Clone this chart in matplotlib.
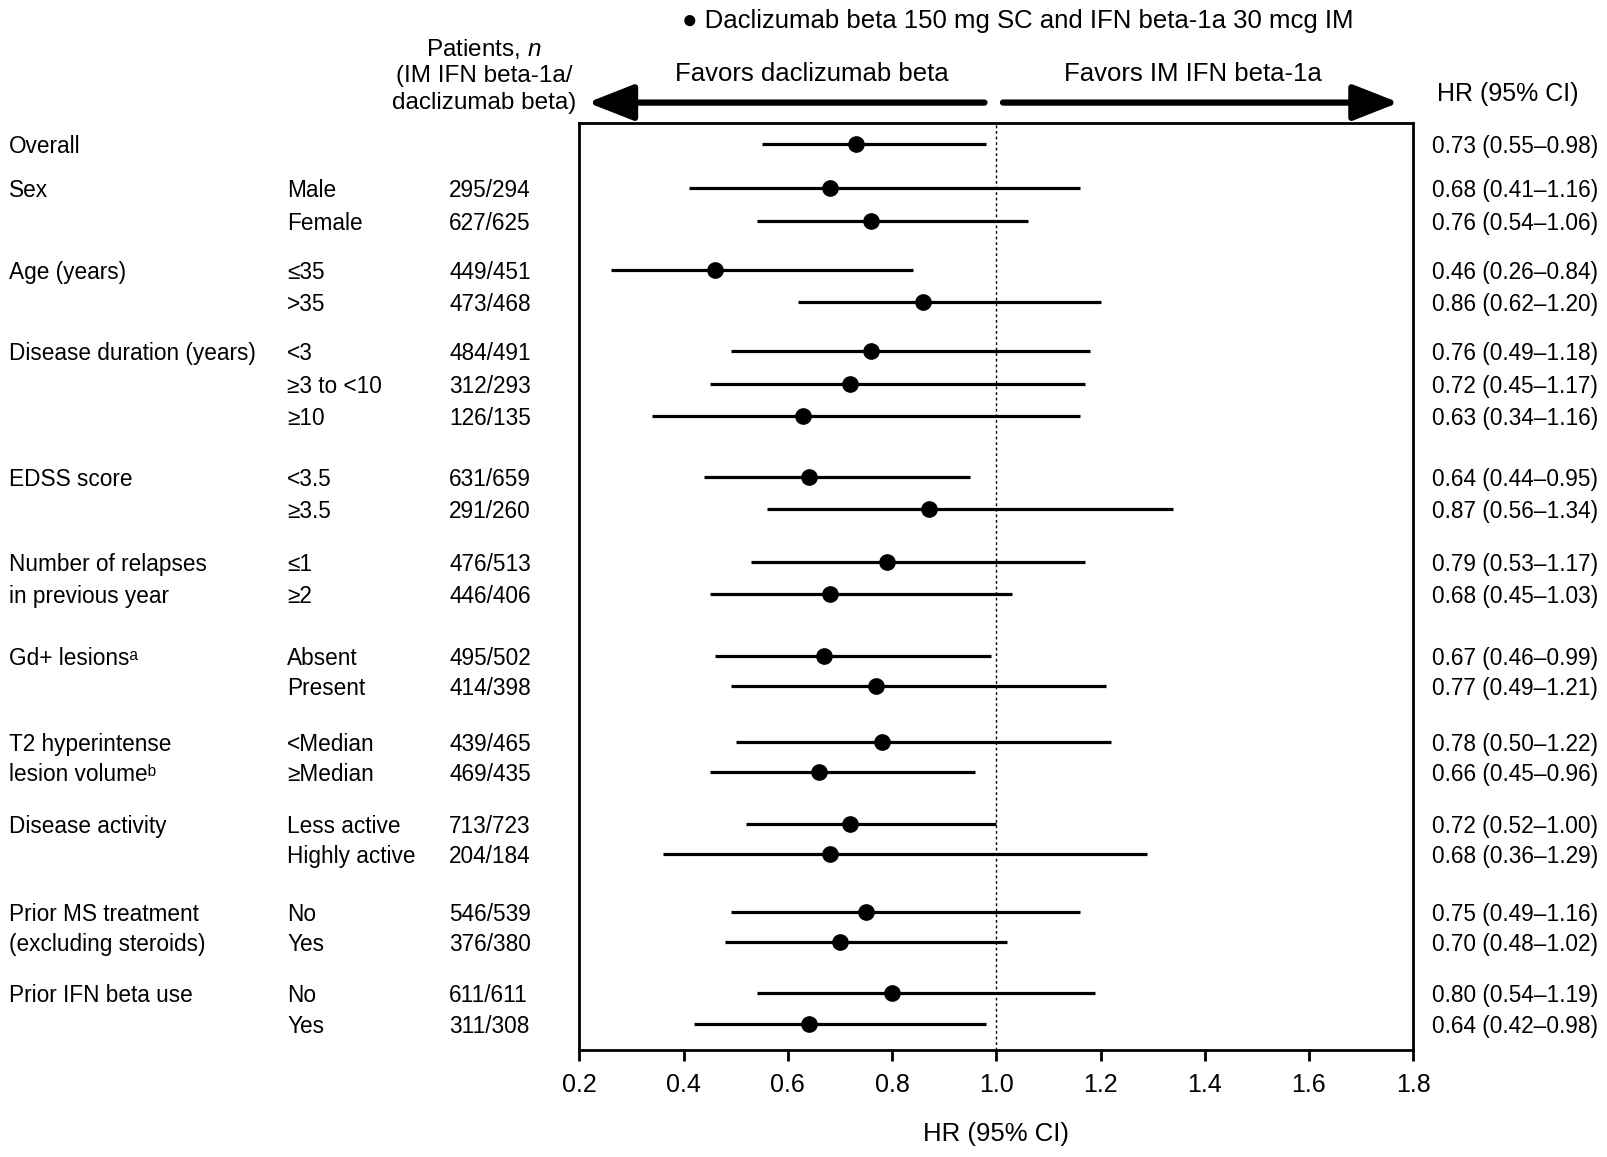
import matplotlib
matplotlib.use("Agg")
import matplotlib.pyplot as plt
from matplotlib.patches import FancyArrowPatch
from matplotlib.transforms import blended_transform_factory

plt.rcParams['font.family'] = ['Liberation Sans', 'DejaVu Sans']
plt.rcParams['mathtext.fontset'] = 'custom'
plt.rcParams['mathtext.rm'] = 'Liberation Sans'
plt.rcParams['mathtext.it'] = 'Liberation Sans:italic'

# ---- data ----
group_labels = ["Overall", "Sex", "", "Age (years)", "", "Disease duration (years)", "", "",
                "EDSS score", "", "Number of relapses", "in previous year",
                "Gd+ lesions\u1d43", "", "T2 hyperintense", "lesion volume\u1d47",
                "Disease activity", "", "Prior MS treatment", "(excluding steroids)",
                "Prior IFN beta use", ""]
subgroups = ["", "Male", "Female", "\u226435", ">35", "<3", "\u22653 to <10", "\u226510",
             "<3.5", "\u22653.5", "\u22641", "\u22652", "Absent", "Present",
             "<Median", "\u2265Median", "Less active", "Highly active", "No", "Yes", "No", "Yes"]
patients_n = ["", "295/294", "627/625", "449/451", "473/468", "484/491", "312/293", "126/135",
              "631/659", "291/260", "476/513", "446/406", "495/502", "414/398",
              "439/465", "469/435", "713/723", "204/184", "546/539", "376/380", "611/611", "311/308"]
hr = [0.73, 0.68, 0.76, 0.46, 0.86, 0.76, 0.72, 0.63, 0.64, 0.87, 0.79, 0.68,
      0.67, 0.77, 0.78, 0.66, 0.72, 0.68, 0.75, 0.70, 0.80, 0.64]
ci_low = [0.55, 0.41, 0.54, 0.26, 0.62, 0.49, 0.45, 0.34, 0.44, 0.56, 0.53, 0.45,
          0.46, 0.49, 0.50, 0.45, 0.52, 0.36, 0.49, 0.48, 0.54, 0.42]
ci_high = [0.98, 1.16, 1.06, 0.84, 1.20, 1.18, 1.17, 1.16, 0.95, 1.34, 1.17, 1.03,
           0.99, 1.21, 1.22, 0.96, 1.00, 1.29, 1.16, 1.02, 1.19, 0.98]
xticks = [0.2, 0.4, 0.6, 0.8, 1.0, 1.2, 1.4, 1.6, 1.8]

# ---- layout (reference grid units, top-left origin) ----
GW, GH = 1568, 1128
row_y = [140, 183, 215, 263, 294, 342, 374, 406, 465, 496, 548, 579, 640, 669,
         723, 753, 803, 833, 889, 918, 968, 998]

def fx(p):
    return p / GW

def fy(p):
    return 1 - p / GH

fig = plt.figure(figsize=(16.08, 11.57), dpi=100)
ax_left, ax_right, ax_top, ax_bot = 565, 1378, 120, 1024
ax = fig.add_axes([fx(ax_left), fy(ax_bot), (ax_right - ax_left) / GW, (ax_bot - ax_top) / GH])
ax.set_xlim(0.2, 1.8)
ax.set_ylim(ax_bot, ax_top)

FS = 16.3
FS_H = 18.5
for y, h, lo, hi in zip(row_y, hr, ci_low, ci_high):
    ax.plot([lo, hi], [y, y], color='black', lw=2.3, solid_capstyle='butt')
    ax.plot([h], [y], 'o', color='black', markersize=11)

ax.axvline(1.0, color='black', lw=1.0, ls=(0, (2, 2)))

ax.set_xticks(xticks)
ax.set_xticklabels([f"{t:.1f}" for t in xticks], fontsize=18)
ax.set_yticks([])
ax.tick_params(axis='x', direction='out', length=8, width=2.0, pad=8)
for s in ax.spines.values():
    s.set_linewidth(2.0)

fig.text(fx(971), fy(1106), "HR (95% CI)", fontsize=FS_H, ha='center', va='center')

tr = blended_transform_factory(fig.transFigure, ax.transData)
kw = dict(transform=tr, fontsize=FS, va='center_baseline', ha='left', clip_on=False)
for y, g, sgrp, n, h, lo, hi in zip(row_y, group_labels, subgroups, patients_n, hr, ci_low, ci_high):
    if g:
        ax.text(fx(9), y, g, **kw)
    if sgrp:
        ax.text(fx(280), y, sgrp, **kw)
    if n:
        ax.text(fx(438), y, n, **kw)
    ax.text(fx(1396), y, f"{h:.2f} ({lo:.2f}\u2013{hi:.2f})", **kw)

# header texts
fig.text(fx(472), fy(48), r"Patients, $\it{n}$", fontsize=17.5, ha='center', va='center')
fig.text(fx(472), fy(74), "(IM IFN beta-1a/", fontsize=17.5, ha='center', va='center')
fig.text(fx(472), fy(100), "daclizumab beta)", fontsize=17.5, ha='center', va='center')
fig.text(fx(792), fy(72), "Favors daclizumab beta", fontsize=FS_H, ha='center', va='center')
fig.text(fx(1163), fy(72), "Favors IM IFN beta-1a", fontsize=FS_H, ha='center', va='center')
fig.text(fx(1470), fy(92), "HR (95% CI)", fontsize=18, ha='center', va='center')
fig.text(fx(992), fy(20), "\u25cf Daclizumab beta 150 mg SC and IFN beta-1a 30 mcg IM",
         fontsize=FS_H, ha='center', va='center')

# arrows
for x0, x1 in [(960, 573), (978, 1364)]:
    fig.add_artist(FancyArrowPatch(
        (fx(x0), fy(100)), (fx(x1), fy(100)), transform=fig.transFigure,
        arrowstyle='-|>,head_length=1.4,head_width=0.55', mutation_scale=20,
        lw=4.5, color='black', shrinkA=0, shrinkB=0))

fig.savefig("out.png", dpi=100, facecolor='white')
